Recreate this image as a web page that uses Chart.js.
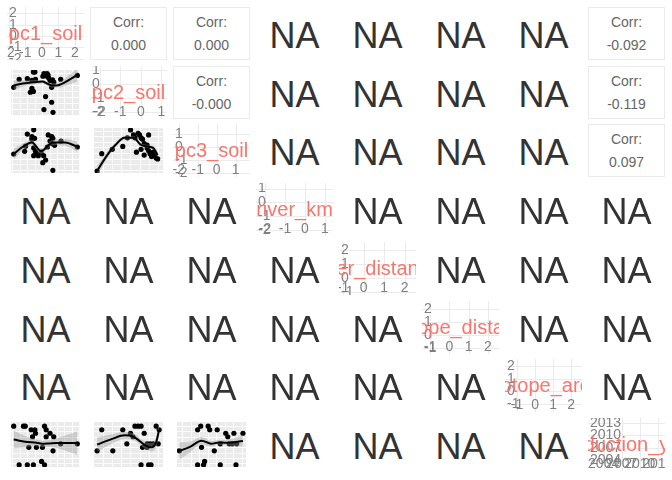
<!DOCTYPE html>
<html><head><meta charset="utf-8">
<script src="https://cdn.jsdelivr.net/npm/chart.js@4.4.1/dist/chart.umd.min.js"></script>
<style>
html,body{margin:0;padding:0;background:#fff;width:672px;height:480px;overflow:hidden;font-family:"Liberation Sans",Arial,sans-serif;}
.cell{position:absolute;box-sizing:border-box;}
.corr{border:1px solid #EBEBEB;color:#666;font-size:14px;text-align:center;display:flex;flex-direction:column;justify-content:center;line-height:23px;}
.na{color:#333;font-size:36px;display:flex;align-items:center;justify-content:center;padding-top:4px;}
canvas{position:absolute;}
</style></head><body>
<script>
// ---- variables & axes ----
const variables = ["pc1_soil","pc2_soil","pc3_soil","river_km","river_distance","biotope_distance","biotope_area","production_year"];
const rangeMin = [-2.1, -2.47, -2.3, -2.45, -1.2, -1.42, -1.67, 2001.4];
const rangeMax = [2.55, 1.27, 1.75, 1.4, 2.55, 2.58, 2.6, 2014.2];
const tickBreaks = [
  [-2,-1,0,1,2],
  [-2,-1,0,1],
  [-2,-1,0,1],
  [-2,-1,0,1],
  [-1,0,1,2],
  [-1,0,1,2],
  [-1,0,1,2],
  [2004,2007,2010,2013]
];

// ---- correlation panels ----
const corrRows = [0,0,1,0,1,2];
const corrCols = [1,2,2,7,7,7];
const corrValues = ["0.000","0.000","-0.000","-0.092","-0.119","0.097"];

// ---- scatter panels: points [x,y] ----
const pts_pc1_pc2 = [[-1.92,-0.17],[-1.55,0.50],[-1.00,0.55],[-0.69,0.41],[-0.59,1.10],[-0.49,1.10],[-0.45,0.50],[-0.69,-0.26],[-0.59,-0.51],[-0.80,-0.58],[0.12,0.98],[0.23,0.79],[0.33,0.98],[0.43,0.62],[0.53,0.39],[0.70,0.46],[0.78,0.26],[0.64,-0.17],[1.25,0.50],[2.37,0.82],[0.23,-0.94],[0.64,-1.41],[0.12,-2.02],[0.73,-2.25],[0.40,0.85],[0.05,0.75]];
const pts_pc1_pc3 = [[-1.00,1.20],[-0.69,0.97],[-0.57,1.59],[-0.69,0.74],[-0.51,0.82],[-1.12,0.11],[-0.57,-0.04],[-0.45,-0.35],[-0.39,-0.59],[-0.57,-0.74],[-0.26,-0.74],[-0.08,-0.43],[0.23,-1.13],[0.10,-0.74],[0.35,0.04],[0.41,1.13],[0.65,0.97],[0.53,0.58],[0.72,0.82],[0.84,0.19],[0.65,0.35],[1.27,0.58],[2.37,0.04],[-1.92,-0.59],[-1.18,-0.35],[0.04,-1.37],[0.72,-2.07]];
const pts_pc2_pc3 = [[-2.30,-2.12],[-2.05,-0.56],[-1.48,-0.17],[-0.91,0.09],[-0.66,0.87],[-0.49,1.57],[-0.33,1.13],[-0.25,0.87],[-0.08,1.26],[0.00,1.13],[0.08,0.87],[0.16,0.74],[0.49,1.13],[-0.17,-0.43],[0.08,-0.17],[0.25,0.35],[0.41,-0.04],[0.49,-0.30],[0.57,-0.56],[0.74,-0.43],[0.82,-0.69],[0.90,-0.95],[0.65,-0.82],[0.98,-1.03],[0.41,0.22],[0.25,-0.69]];
const pts_pc1_year = [[-1.92,2013],[-1.26,2013],[-1.14,2013],[-0.74,2012],[-0.49,2012],[-0.45,2011],[0.16,2013],[0.27,2012],[0.53,2011],[0.78,2010],[0.27,2010],[-0.65,2010],[-0.90,2007],[-0.39,2007],[0.02,2007],[0.73,2006],[1.25,2008],[2.37,2008],[-1.55,2002],[-1.00,2002],[-0.59,2002],[-0.04,2003],[0.16,2002]];
const pts_pc2_year = [[-2.05,2012],[-0.91,2012],[-0.25,2013],[-0.08,2013],[0.08,2013],[0.25,2011],[0.90,2013],[1.06,2012],[-2.30,2006],[-1.45,2006],[-0.69,2008],[-0.49,2011],[-0.36,2010],[0.41,2008],[0.57,2008],[0.74,2008],[1.01,2008],[0.08,2002],[0.49,2002],[0.62,2002],[0.16,2007],[0.41,2007]];
const pts_pc3_year = [[-2.16,2006],[-1.09,2012],[-0.91,2013],[-0.47,2013],[-0.38,2012],[0.06,2012],[0.56,2011],[0.68,2010],[1.04,2011],[1.57,2011],[-0.86,2007],[-0.11,2006],[0.24,2008],[0.77,2008],[-1.09,2002],[-0.74,2002],[-0.68,2003],[0.24,2002],[1.16,2002],[0.95,2008],[1.20,2008]];

// ---- smoothers: [x, fit, half-width of band] ----
const fit_pc1_pc2 = [[-1.92,-0.02,0.40],[-1.30,0.14,0.25],[-0.49,0.26,0.17],[0.02,0.31,0.15],[0.33,0.14,0.15],[0.73,-0.02,0.17],[1.14,0.03,0.22],[1.55,0.26,0.32],[2.37,0.86,0.55]];
const fit_pc1_pc3 = [[-1.92,-0.59,0.50],[-1.30,0.06,0.30],[-0.69,0.45,0.25],[-0.08,-0.33,0.25],[0.73,0.45,0.25],[1.55,0.45,0.30],[2.37,0.06,0.45]];
const fit_pc2_pc3 = [[-2.30,-2.12,0.45],[-1.81,-0.82,0.30],[-1.31,0.22,0.22],[-0.82,0.87,0.18],[-0.33,0.87,0.15],[0.08,0.22,0.15],[0.41,0.09,0.15],[0.74,-0.04,0.20],[0.98,-0.69,0.30]];
const fit_pc1_year = [[-1.92,2009.2,2.5],[-1.0,2008.5,1.5],[-0.5,2008.4,1.0],[0.0,2008.0,0.9],[0.5,2008.1,1.0],[1.0,2008.2,1.4],[1.6,2008.2,2.2],[2.37,2008.2,3.4]];
const fit_pc2_year = [[-2.30,2007.8,2.0],[-1.48,2009.4,1.3],[-0.82,2010.4,1.0],[-0.33,2010.0,0.9],[0.33,2007.5,1.0],[0.65,2007.0,1.2],[0.90,2008.5,1.5],[1.06,2012.0,2.0]];
const fit_pc3_year = [[-2.16,2006.0,2.5],[-1.54,2007.1,1.5],[-0.86,2008.9,1.0],[-0.29,2008.0,0.8],[0.15,2008.4,0.7],[0.59,2008.3,0.8],[1.57,2008.8,1.6]];

const scatterRows = [1,2,2,7,7,7];
const scatterCols = [0,0,1,0,1,2];
const scatterPts = [pts_pc1_pc2, pts_pc1_pc3, pts_pc2_pc3, pts_pc1_year, pts_pc2_year, pts_pc3_year];
const scatterFits = [fit_pc1_pc2, fit_pc1_pc3, fit_pc2_pc3, fit_pc1_year, fit_pc2_year, fit_pc3_year];

// ---- layout helpers ----
const N = variables.length;
function cellBox(r,c){ return {left: 7+83*c, top: Math.round(7+58.71*r), w:77, h:53}; }
function mkCanvas(r,c){
  const b=cellBox(r,c); const cv=document.createElement('canvas');
  cv.width=b.w; cv.height=b.h;
  cv.style.left=b.left+'px'; cv.style.top=b.top+'px';
  cv.style.width=b.w+'px'; cv.style.height=b.h+'px';
  document.body.appendChild(cv); return cv;
}
function minorOf(br){
  const out=[]; const step=br[1]-br[0];
  out.push(br[0]-step/2);
  for(let i=0;i<br.length-1;i++) out.push((br[i]+br[i+1])/2);
  out.push(br[br.length-1]+step/2);
  return out;
}

const panelGrid = {
  id:'panelGrid',
  beforeDatasetsDraw(chart, args, o){
    const {ctx, chartArea:a, scales:{x,y}} = chart;
    ctx.save();
    ctx.fillStyle=o.bg; ctx.fillRect(a.left,a.top,a.width,a.height);
    ctx.strokeStyle=o.line; ctx.lineWidth=1;
    const draw=(vals,isX)=>{
      vals.forEach(v=>{
        if(isX){ const p=x.getPixelForValue(v); if(p<a.left||p>a.right) return;
          const q=Math.round(p)+0.5; ctx.beginPath(); ctx.moveTo(q,a.top); ctx.lineTo(q,a.bottom); ctx.stroke(); }
        else { const p=y.getPixelForValue(v); if(p<a.top||p>a.bottom) return;
          const q=Math.round(p)+0.5; ctx.beginPath(); ctx.moveTo(a.left,q); ctx.lineTo(a.right,q); ctx.stroke(); }
      });
    };
    if(o.minor){ ctx.globalAlpha=0.75; draw(minorOf(o.xb),true); draw(minorOf(o.yb),false); ctx.globalAlpha=1; }
    draw(o.xb,true); draw(o.yb,false);
    ctx.restore();
  },
  afterDraw(chart, args, o){
    if(!o.diag) return;
    const {ctx, chartArea:a, scales:{x,y}} = chart;
    ctx.save();
    ctx.font='14px "Liberation Sans", Arial, sans-serif';
    ctx.fillStyle='#7F7F7F';
    ctx.textAlign='left'; ctx.textBaseline='middle';
    o.yb.forEach(v=>{ ctx.fillText(String(v), a.left+2, y.getPixelForValue(v)); });
    ctx.textAlign='center'; ctx.textBaseline='alphabetic';
    o.xb.forEach(v=>{ ctx.fillText(String(v), x.getPixelForValue(v), a.bottom-3); });
    ctx.font='20px "Liberation Sans", Arial, sans-serif';
    ctx.fillStyle='#F8766D'; ctx.textBaseline='middle';
    ctx.fillText(o.name, (a.left+a.right)/2, (a.top+a.bottom)/2+1);
    ctx.restore();
  }
};

function baseOptions(xi, yi, gridOpts){
  return {
    responsive:false, animation:false, events:[],
    layout:{padding:0},
    plugins:{legend:{display:false}, tooltip:{enabled:false}, panelGrid:gridOpts},
    scales:{
      x:{type:'linear', display:false, min:rangeMin[xi], max:rangeMax[xi]},
      y:{type:'linear', display:false, min:rangeMin[yi], max:rangeMax[yi]}
    }
  };
}

const used = {};
// diagonal panels
for(let k=0;k<N;k++){
  used[k+','+k]=1;
  new Chart(mkCanvas(k,k), {
    type:'scatter',
    data:{datasets:[{data:[], pointRadius:0}]},
    options: baseOptions(k,k,{bg:'#FFFFFF', line:'#EBEBEB', minor:false, diag:true, xb:tickBreaks[k], yb:tickBreaks[k], name:variables[k]}),
    plugins:[panelGrid]
  });
}
// scatter panels
for(let i=0;i<scatterRows.length;i++){
  const r=scatterRows[i], c=scatterCols[i];
  used[r+','+c]=1;
  const fit=scatterFits[i];
  new Chart(mkCanvas(r,c), {
    type:'scatter',
    data:{datasets:[
      {type:'line', data:fit.map(d=>({x:d[0],y:d[1]-d[2]})), borderWidth:0, borderColor:'rgba(0,0,0,0)', pointRadius:0, fill:false, order:2, cubicInterpolationMode:'monotone'},
      {type:'line', data:fit.map(d=>({x:d[0],y:d[1]+d[2]})), borderWidth:0, borderColor:'rgba(0,0,0,0)', pointRadius:0, fill:'-1', backgroundColor:'rgba(153,153,153,0.4)', order:2, cubicInterpolationMode:'monotone'},
      {type:'line', data:fit.map(d=>({x:d[0],y:d[1]})), borderColor:'#000000', borderWidth:2, pointRadius:0, fill:false, order:1, cubicInterpolationMode:'monotone'},
      {type:'scatter', data:scatterPts[i].map(d=>({x:d[0],y:d[1]})), pointRadius:2.6, backgroundColor:'#000000', borderWidth:0, order:3}
    ]},
    options: baseOptions(c,r,{bg:'#EBEBEB', line:'#FFFFFF', minor:true, diag:false, xb:tickBreaks[c], yb:tickBreaks[r]}),
    plugins:[panelGrid]
  });
}
// correlation panels
for(let i=0;i<corrValues.length;i++){
  const r=corrRows[i], c=corrCols[i]; used[r+','+c]=1;
  const b=cellBox(r,c); const d=document.createElement('div');
  d.className='cell corr';
  d.style.left=b.left+'px'; d.style.top=b.top+'px'; d.style.width=b.w+'px'; d.style.height=b.h+'px';
  d.innerHTML='<div>Corr:</div><div>'+corrValues[i]+'</div>';
  document.body.appendChild(d);
}
// NA panels
for(let r=0;r<N;r++) for(let c=0;c<N;c++){
  if(used[r+','+c]) continue;
  const b=cellBox(r,c); const d=document.createElement('div');
  d.className='cell na';
  d.style.left=b.left+'px'; d.style.top=b.top+'px'; d.style.width=b.w+'px'; d.style.height=b.h+'px';
  d.textContent='NA';
  document.body.appendChild(d);
}
</script>
</body></html>
